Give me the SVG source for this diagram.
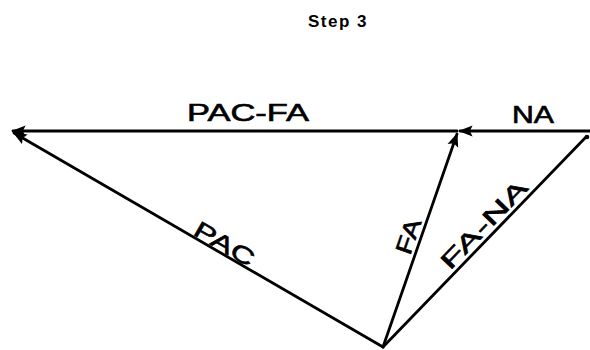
<svg xmlns="http://www.w3.org/2000/svg" width="590" height="350" viewBox="0 0 590 350">
<style>
.ln{stroke:#000;stroke-width:2.8;fill:none;stroke-linecap:round}
.lb{font-family:"Liberation Sans",Arial,sans-serif;font-size:23px;fill:#000;stroke:#000;stroke-width:0.6}
.tt{font-family:"Liberation Sans",Arial,sans-serif;font-size:17px;font-weight:bold;fill:#000}
</style>
<defs>
<marker id="ah" viewBox="0 0 10 10" refX="9" refY="5" markerWidth="5" markerHeight="5" orient="auto" markerUnits="strokeWidth">
<path d="M0,1 L10,5 L0,9 L2,5 z" fill="#000"/>
</marker>
</defs>
<rect width="590" height="350" fill="#fff"/>
<text class="tt" x="308" y="27" letter-spacing="1.5">Step 3</text>
<g id="connectors">
<line class="ln" x1="457" y1="131" x2="13" y2="131" marker-end="url(#ah)"/>
<line class="ln" x1="590" y1="131" x2="460" y2="131" marker-end="url(#ah)"/>
<line class="ln" x1="383" y1="347" x2="14" y2="133" marker-end="url(#ah)"/>
<line class="ln" x1="383" y1="347" x2="457" y2="134" marker-end="url(#ah)"/>
<line class="ln" x1="383" y1="347" x2="586" y2="137"/>
<circle cx="587" cy="137" r="2.3" fill="#000"/>
</g>
<g id="label-pacfa"><text class="lb" x="187" y="121" textLength="122" lengthAdjust="spacingAndGlyphs">PAC-FA</text></g>
<g id="label-na"><text class="lb" x="512" y="123" textLength="42" lengthAdjust="spacingAndGlyphs">NA</text></g>
<g id="label-pac"><text class="lb" transform="translate(192,234) rotate(30.3)" textLength="66" lengthAdjust="spacingAndGlyphs">PAC</text></g>
<g id="label-fa"><text class="lb" transform="translate(410,256) rotate(-71)" textLength="36" lengthAdjust="spacingAndGlyphs">FA</text></g>
<g id="label-fana"><text class="lb" transform="translate(450,271) rotate(-46)" textLength="114" lengthAdjust="spacingAndGlyphs">FA-NA</text></g>
</svg>
